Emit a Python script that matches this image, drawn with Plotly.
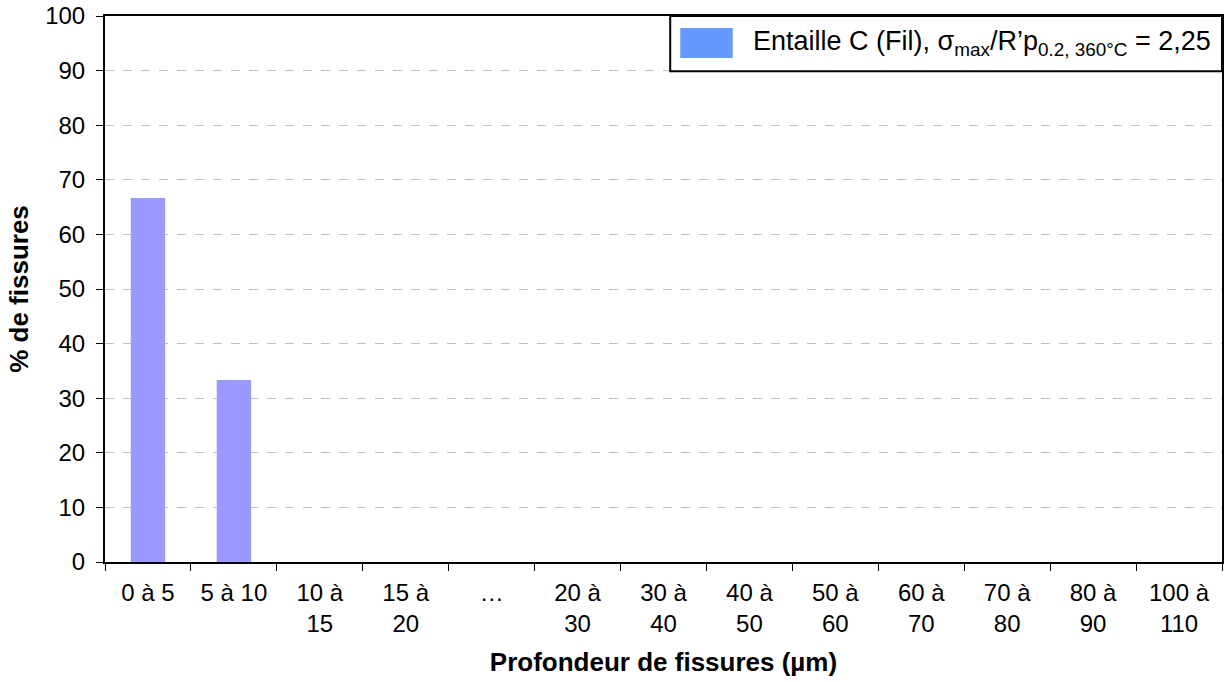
import plotly.graph_objects as go

categories = ['0 à 5', '5 à 10', '10 à<br>15', '15 à<br>20', '…', '20 à<br>30', '30 à<br>40',
              '40 à<br>50', '50 à<br>60', '60 à<br>70', '70 à<br>80', '80 à<br>90', '100 à<br>110']
pct_fissures = [66.67, 33.33, 0, 0, 0, 0, 0, 0, 0, 0, 0, 0, 0]
serie_name = 'Entaille C (Fil), σ<sub>max</sub>/R’p<sub>0.2, 360°C</sub> = 2,25'

FONT = 'Liberation Sans, Arial, sans-serif'

fig = go.Figure()
fig.add_trace(go.Bar(x=categories, y=pct_fissures, width=0.4,
                     marker=dict(color='#9999FF', line=dict(width=0)),
                     name=serie_name, showlegend=False))

# legend drawn by hand (big swatch, box glued to top-right corner)
fig.add_shape(type='rect', xref='paper', yref='paper', x0=0.506, x1=1.0, y0=0.899, y1=1.0,
              line=dict(color='black', width=2), fillcolor='white', layer='above')
fig.add_shape(type='rect', xref='paper', yref='paper', x0=0.515, x1=0.562, y0=0.923, y1=0.978,
              line=dict(width=0), fillcolor='#6699FF', layer='above')
fig.add_annotation(text=serie_name, xref='paper', yref='paper', x=0.578, y=0.951,
                   xanchor='left', yanchor='middle', showarrow=False,
                   font=dict(family=FONT, size=27, color='black'))

fig.update_layout(
    width=1231, height=682,
    margin=dict(l=105, r=9, t=16, b=120),
    paper_bgcolor='white', plot_bgcolor='white',
    font=dict(family=FONT, size=24, color='black'),
)
fig.update_xaxes(
    type='category', tickson='boundaries', ticks='outside', ticklen=7, tickwidth=1,
    tickcolor='black', showline=True, linecolor='black', linewidth=2, mirror=True,
    showgrid=False, tickfont=dict(size=24), automargin=False, ticklabelstandoff=8,
    title=dict(text='<b>Profondeur de fissures (µm)</b>', font=dict(size=26), standoff=17),
)
fig.update_yaxes(
    range=[0, 100], dtick=10, ticks='outside', ticklen=7, tickwidth=1, tickcolor='black',
    showline=True, linecolor='black', linewidth=2, mirror=True,
    showgrid=True, gridcolor='#c0c0c0', griddash='dash', gridwidth=1,
    zeroline=False, tickfont=dict(size=24), automargin=False, ticklabelstandoff=6,
    title=dict(text='<b>% de fissures</b>', font=dict(size=26), standoff=9),
)

# drop the default body margin so the figure sits at the page corner
fig.write_html('out.html', config={'displayModeBar': False},
               post_script="document.body.style.margin='0';")
